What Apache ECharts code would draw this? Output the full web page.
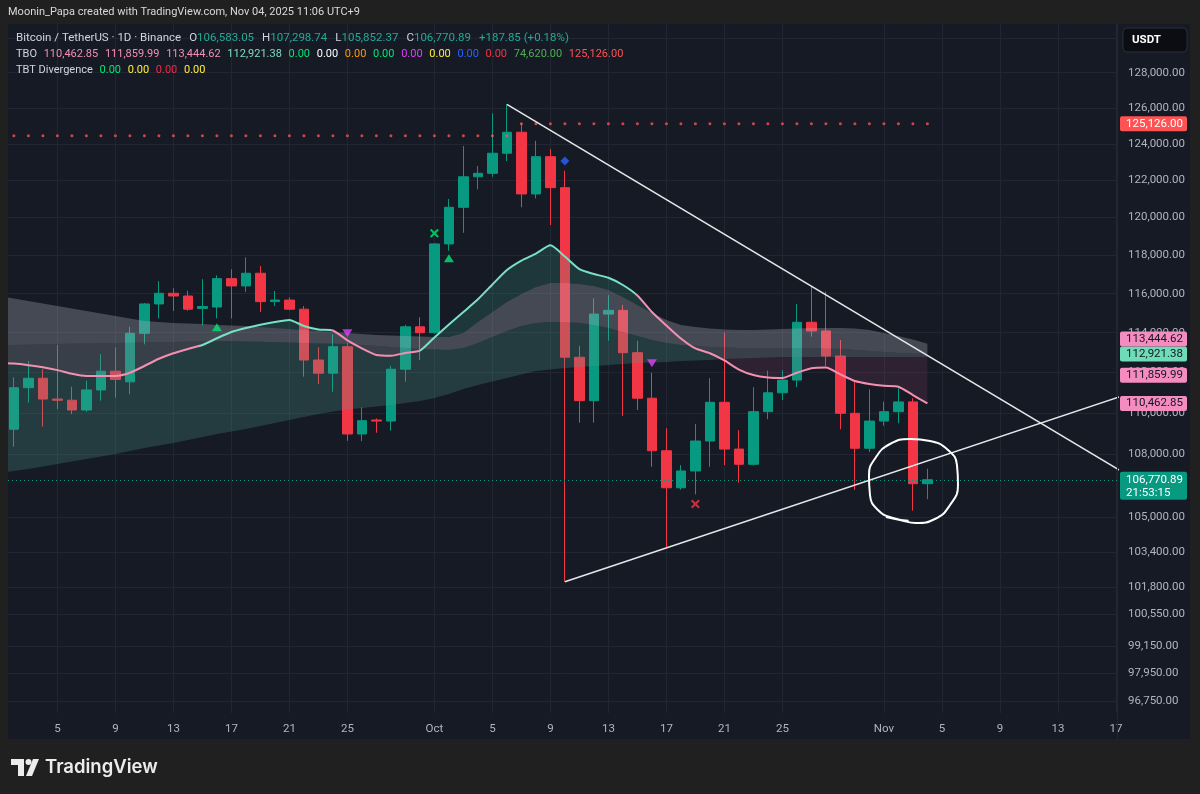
<!DOCTYPE html>
<html>
<head>
<meta charset="utf-8">
<title>BTCUSDT 1D</title>
<script src="https://cdn.jsdelivr.net/npm/echarts@6.0.0/dist/echarts.min.js"></script>
<style>
  html, body { margin: 0; padding: 0; background: #202020; }
  #chart { width: 1200px; height: 794px; }
</style>
</head>
<body>
<div id="chart"></div>
<script>
// 日K: 2025-09-02 起每天一根 (Binance BTC/USDT)
var startDate = '2025-09-02';
var open = [109200, 111240, 111710, 110680, 110620, 110140, 111130, 112060, 111530, 113970,
  115470, 116020, 115880, 115240, 115310, 116780, 116400, 117060, 115590, 115670,
  115200, 112620, 111960, 113290, 108970, 109650, 109600, 112160, 114300, 114000,
  118600, 120550, 122200, 122390, 123490, 124650, 121270, 123300, 121610, 112760,
  110600, 114950, 115140, 112990, 110720, 108160, 106390, 107190, 108630, 110520,
  108240, 107510, 110060, 110990, 111620, 114530, 114090, 112820, 109980, 108280,
  109600, 110060, 110540, 106583.05];
var high = [111760, 112570, 112160, 113380, 111290, 111590, 112910, 113260, 114300, 115520,
  116650, 116280, 116150, 116750, 116950, 117270, 117890, 117440, 116140, 115810,
  115360, 113260, 113920, 113460, 110270, 109730, 112320, 114400, 114790, 118650,
  121000, 123890, 122790, 125700, 126210, 125150, 124180, 123720, 122530, 113330,
  115760, 115930, 115420, 113590, 111990, 109250, 107470, 109460, 111710, 114000,
  109160, 111260, 112090, 112120, 115470, 116360, 116100, 113630, 111590, 111160,
  110550, 111210, 110720, 107298.74];
var low = [108350, 110500, 109330, 110180, 109940, 110050, 110600, 110750, 110910, 113410,
  114730, 115110, 115120, 114380, 114730, 114730, 116090, 115060, 115360, 115150,
  111790, 111420, 111040, 108640, 108620, 109030, 109130, 111540, 112620, 113950,
  118240, 119190, 121520, 122200, 123060, 120550, 121030, 119600, 102020, 109520,
  109520, 113590, 109850, 110140, 107390, 103570, 106300, 106080, 107390, 107470,
  106630, 107450, 109690, 110630, 111260, 113800, 112320, 109200, 106290, 108100,
  109370, 109490, 105310, 105852.37];
var close = [111240, 111710, 110680, 110620, 110140, 111130, 112060, 111650, 113970, 115470,
  116020, 115880, 115200, 115340, 116780, 116400, 117060, 115590, 115670, 115200,
  112620, 111960, 113290, 108970, 109620, 109600, 112160, 114300, 114000, 118600,
  120550, 122200, 122390, 123490, 124650, 121270, 123300, 121610, 112760, 110600,
  114950, 115140, 112990, 110720, 108160, 106390, 107190, 108630, 110520, 108240,
  107510, 110060, 110990, 111620, 114530, 114090, 112820, 109980, 108280, 109600,
  110060, 110540, 106583.05, 106770.89];

// TBO 指标 (从 09-01 开始，每天一个值)
var tboFast = [112473, 112443, 112362, 112256, 112115, 111931, 111821, 111821, 111821, 111981,
  112322, 112683, 112960, 113176, 113377, 113717, 114035, 114239, 114406, 114544,
  114647, 114340, 114162, 114112, 113616, 113212, 112874, 112834, 112975, 113090,
  113757, 114417, 115055, 115708, 116474, 117229, 117726, 118088, 118526, 117936,
  117270, 117020, 116823, 116448, 115904, 115055, 114365, 113707, 113202, 112960,
  112598, 112145, 111871, 111746, 111721, 111981, 112211, 112246, 111901, 111572,
  111424, 111334, 111290, 110879, 110463];
var bandTop = [115878, 115749, 115620, 115492, 115364, 115235, 115107, 114979, 114851, 114723,
  114596, 114545, 114493, 114468, 114442, 114391, 114366, 114340, 114289, 114239,
  114188, 114137, 114086, 114035, 113985, 113934, 113883, 113858, 113833, 113808,
  113782, 113782, 113985, 114545, 115055, 115569, 115982, 116344, 116552, 116552,
  116500, 116396, 116189, 115827, 115415, 115004, 114647, 114391, 114289, 114213,
  114162, 114137, 114137, 114162, 114188, 114213, 114239, 114239, 114239, 114213,
  114137, 113985, 113833, 113656, 113445];
var bandMid = [113362, 113377, 113392, 113408, 113423, 113438, 113448, 113463, 113478, 113493,
  113503, 113519, 113529, 113544, 113554, 113570, 113580, 113560, 113539, 113519,
  113499, 113478, 113458, 113443, 113428, 113377, 113327, 113277, 113227, 113176,
  113151, 113126, 113227, 113478, 113782, 114086, 114340, 114493, 114545, 114545,
  114493, 114391, 114239, 114035, 113833, 113631, 113478, 113377, 113327, 113277,
  113252, 113227, 113227, 113227, 113227, 113227, 113227, 113202, 113176, 113126,
  113076, 113025, 112975, 112950, 112921];
var bandLow = [107092, 107188, 107284, 107403, 107523, 107643, 107763, 107883, 108003, 108148,
  108292, 108413, 108533, 108678, 108824, 108970, 109091, 109213, 109359, 109505,
  109651, 109798, 109945, 110067, 110165, 110239, 110313, 110387, 110485, 110583,
  110731, 110928, 111176, 111374, 111548, 111722, 111896, 112070, 112145, 112221,
  112271, 112322, 112372, 112422, 112473, 112498, 112523, 112573, 112598, 112623,
  112673, 112698, 112723, 112749, 112774, 112774, 112774, 112774, 112774, 112774,
  112774, 112774, 112774, 112774, 112774];
// 快线颜色为青色的区间 (以 09-01 为第 0 天)
var fastUpRanges = [[13.8, 22.9], [29, 43.9]];

// 前高虚线
var athLevels = [
  { from: '2025-09-02', to: '2025-10-06', price: 124457 },
  { from: '2025-10-07', to: '2025-11-04', price: 125126 }
];

// 信号
var signals = [
  { date: '2025-09-16', price: 114274, kind: 'up' },
  { date: '2025-09-25', price: 113970, kind: 'down' },
  { date: '2025-10-01', price: 119162, kind: 'buyX' },
  { date: '2025-10-02', price: 117842, kind: 'up' },
  { date: '2025-10-10', price: 123063, kind: 'diamond' },
  { date: '2025-10-16', price: 112456, kind: 'down' },
  { date: '2025-10-19', price: 105623, kind: 'sellX' }
];

// 手绘: 趋势线 和 圈
var resistance = [['2025-10-06', 126211], ['2025-11-18', 106920]];
var support = [['2025-10-10', 102030], ['2025-11-18', 110968]];
var circleDraw = [[61.14, 105014], [62.11, 104873], [63.21, 104733], [64.52, 104920], [65.56, 105576],
  [66.11, 106522], [66.04, 107474], [65.42, 108196], [64.18, 108630], [62.8, 108727],
  [61.42, 108485], [60.46, 107858], [59.97, 106997], [60.04, 106048], [60.59, 105341],
  [61.63, 104966], [62.7, 104840]];

// 轴刻度
var priceTicks = [130000, 128000, 126000, 124000, 122000, 120000, 118000, 116000, 114000, 112000,
  110000, 108000, 105000, 103400, 101800, 100550, 99150, 97950, 96750];
var tickDates = ['2025-09-05', '2025-09-09', '2025-09-13', '2025-09-17', '2025-09-21', '2025-09-25',
  '2025-10-01', '2025-10-05', '2025-10-09', '2025-10-13', '2025-10-17', '2025-10-21', '2025-10-25',
  '2025-11-01', '2025-11-05', '2025-11-09', '2025-11-13', '2025-11-17'];
var tickNames = ['5', '9', '13', '17', '21', '25', 'Oct', '5', '9', '13', '17', '21', '25',
  'Nov', '5', '9', '13', '17'];

// 右侧价格标签
var tagList = [
  { value: 125126.00, text: '125,126.00', bg: '#ff5252', fg: '#ffffff' },
  { value: 113444.62, text: '113,444.62', bg: '#f48cc0', fg: '#131722' },
  { value: 112921.38, text: '112,921.38', bg: '#6fdcb8', fg: '#131722' },
  { value: 111859.99, text: '111,859.99', bg: '#f48cc0', fg: '#131722' },
  { value: 110462.85, text: '110,462.85', bg: '#f48cc0', fg: '#131722' },
  { value: 106770.89, text: '106,770.89', sub: '21:53:15', bg: '#089981', fg: '#ffffff' }
];

var FONT = 'Roboto, "Noto Sans", sans-serif';
var PINK = '#f48fb1', TEAL = '#79e0c3', UP = '#089981', DOWN = '#f23645';

function dayOf(s) {
  return Math.round((Date.parse(s) - Date.parse('2025-09-01')) / 864e5);
}
var firstDay = dayOf(startDate);
var tickDays = tickDates.map(dayOf);

var candleData = open.map(function (o, k) {
  return [firstDay + k, o, close[k], low[k], high[k]];
});
var fastData = tboFast.map(function (v, k) { return [k, v]; });

var athData = [];
athLevels.forEach(function (lv) {
  for (var d = dayOf(lv.from); d <= dayOf(lv.to); d++) athData.push([d, lv.price]);
});

// 两条线之间的填充 (只填 upper 在上方的部分)
function splitFill(api, upper, lower) {
  var segs = [], top = [], bot = [], prev = null;
  for (var k = 0; k < upper.length; k++) {
    var a = api.coord([k, upper[k]]), b = api.coord([k, lower[k]]);
    var gap = b[1] - a[1];
    if (prev && (prev.gap > 0) !== (gap > 0)) {
      var t = prev.gap / (prev.gap - gap);
      var c = [prev.a[0] + t * (a[0] - prev.a[0]), prev.a[1] + t * (a[1] - prev.a[1])];
      top.push(c); bot.push(c);
      if (prev.gap > 0) segs.push(top.concat(bot.slice().reverse()));
      top = [c]; bot = [c];
    }
    top.push(a); bot.push(b);
    prev = { a: a, gap: gap };
  }
  if (prev && prev.gap > 0) segs.push(top.concat(bot.slice().reverse()));
  return segs;
}

function fillBetween(upper, lower, color, z) {
  return {
    type: 'custom',
    z: z,
    silent: true,
    clip: true,
    data: [[0, upper[0]]],
    renderItem: function (params, api) {
      return {
        type: 'group',
        children: splitFill(api, upper, lower).map(function (pts) {
          return { type: 'polygon', shape: { points: pts }, style: { fill: color } };
        })
      };
    }
  };
}

var xPath = 'path://M2,0L6,4L10,0L12,2L8,6L12,10L10,12L6,8L2,12L0,10L4,6L0,2Z';
var signalStyle = {
  up: { symbol: 'triangle', size: [10, 8], rotate: 0, color: '#00e676' },
  down: { symbol: 'triangle', size: [10, 8], rotate: 180, color: '#e040fb' },
  buyX: { symbol: xPath, size: 9, rotate: 0, color: '#00e676' },
  sellX: { symbol: xPath, size: 9, rotate: 0, color: '#f23645' },
  diamond: { symbol: 'diamond', size: 9, rotate: 0, color: '#2962ff' }
};
var signalData = signals.map(function (s) {
  var st = signalStyle[s.kind];
  return {
    value: [dayOf(s.date), s.price],
    symbol: st.symbol, symbolSize: st.size, symbolRotate: st.rotate,
    itemStyle: { color: st.color }
  };
});

function toXY(p) { return [dayOf(p[0]), p[1]]; }

var chart = echarts.init(document.getElementById('chart'), null, { renderer: 'canvas' });

var pieces = [];
var edge = 0;
fastUpRanges.forEach(function (r) {
  pieces.push({ gte: edge, lt: r[0], color: PINK });
  pieces.push({ gte: r[0], lt: r[1], color: TEAL });
  edge = r[1];
});
pieces.push({ gte: edge, lte: 100, color: PINK });

var option = {
  backgroundColor: '#161a25',
  animation: false,
  grid: { left: 8, right: 83, top: 24, bottom: 81 },
  xAxis: {
    type: 'value',
    min: (8 + 0.6) / 14.5,
    max: (1117 + 0.6) / 14.5,
    axisLine: { show: false },
    axisTick: { show: false, customValues: tickDays },
    splitLine: { show: true, lineStyle: { color: '#222633', width: 1 } },
    axisLabel: {
      customValues: tickDays,
      color: '#b2b5be',
      fontFamily: FONT,
      fontSize: 11.5,
      margin: 10,
      formatter: function (v) {
        var k = tickDays.indexOf(Math.round(v));
        return k >= 0 ? tickNames[k] : '';
      }
    }
  },
  yAxis: {
    type: 'log',
    position: 'right',
    min: 96233,
    max: 130808,
    axisLine: { show: false },
    axisTick: { show: false, customValues: priceTicks },
    splitLine: { show: true, lineStyle: { color: '#222633', width: 1 } },
    axisLabel: {
      customValues: priceTicks,
      color: '#b2b5be',
      fontFamily: FONT,
      fontSize: 11.5,
      margin: 11,
      formatter: function (v) {
        return Number(v).toLocaleString('en-US', { minimumFractionDigits: 2, maximumFractionDigits: 2 });
      }
    }
  },
  visualMap: {
    show: false,
    type: 'piecewise',
    seriesIndex: 5,
    dimension: 0,
    pieces: pieces
  },
  series: [
    {
      type: 'candlestick',
      z: 2,
      barWidth: 10,
      data: candleData,
      encode: { x: 0, y: [1, 2, 3, 4] },
      itemStyle: {
        color: UP, color0: DOWN, borderColor: UP, borderColor0: DOWN,
        borderColorDoji: UP, borderWidth: 1
      },
      markLine: {
        silent: true,
        symbol: 'none',
        label: { show: false },
        lineStyle: { color: UP, type: [1, 3], width: 1 },
        data: [{ yAxis: close[close.length - 1] }]
      }
    },
    fillBetween(bandTop, bandMid, 'rgba(178,182,192,0.30)', 3),
    fillBetween(bandMid, bandLow, 'rgba(80,165,145,0.25)', 3),
    fillBetween(bandMid, tboFast, 'rgba(210,90,150,0.12)', 3),
    fillBetween(tboFast, bandTop, 'rgba(60,175,150,0.20)', 3),
    {
      type: 'line',
      z: 4,
      data: fastData,
      symbol: 'none',
      smooth: 0.2,
      lineStyle: { width: 2 }
    },
    {
      type: 'scatter',
      z: 3,
      data: athData,
      symbol: 'circle',
      symbolSize: 3,
      itemStyle: { color: '#ff5252' }
    },
    {
      type: 'line',
      z: 5,
      data: resistance.map(toXY),
      symbol: 'none',
      lineStyle: { color: '#e8e8e8', width: 1.5 }
    },
    {
      type: 'line',
      z: 5,
      data: support.map(toXY),
      symbol: 'none',
      lineStyle: { color: '#e8e8e8', width: 1.5 }
    },
    {
      type: 'line',
      z: 6,
      data: circleDraw,
      symbol: 'none',
      smooth: 0.5,
      lineStyle: { color: '#ffffff', width: 2 }
    },
    {
      type: 'scatter',
      z: 6,
      data: signalData
    }
  ]
};

chart.setOption(option);

// 文字、边框、价格标签
function rowText(x, y, rich, text, size) {
  return { type: 'text', x: x, y: y, z: 50, style: { text: text, rich: rich, verticalAlign: 'middle', font: size + 'px ' + FONT } };
}
function token(c, size, pad) { return { fill: c, fontFamily: FONT, fontSize: size, padding: [0, 0, 0, pad] }; }
var row1Rich = {
  t: token('#d1d4dc', 11.5, 0),
  l: token('#d1d4dc', 11.5, 8),
  v: token('#22ab94', 11.5, 0),
  g: token('#22ab94', 11.5, 8)
};
var tboColors = ['#f48fb1', '#f48fb1', '#f48fb1', '#7ddcc0', '#00e676', '#ffffff', '#ff9800', '#00e676',
  '#e040fb', '#ffeb3b', '#2962ff', '#f23645', '#4caf50', '#ff5252'];
var tboTexts = ['110,462.85', '111,859.99', '113,444.62', '112,921.38', '0.00', '0.00', '0.00', '0.00',
  '0.00', '0.00', '0.00', '0.00', '74,620.00', '125,126.00'];
var tbtColors = ['#00e676', '#ffeb3b', '#f7254a', '#ffeb3b'];
var tbtTexts = ['0.00', '0.00', '0.00', '0.00'];

var tboRich = { t: token('#d1d4dc', 11, 0) }, tboStr = '{t|TBO}';
tboTexts.forEach(function (s, k) { tboRich['c' + k] = token(tboColors[k], 11, 6.7); tboStr += '{c' + k + '|' + s + '}'; });
var tbtRich = { t: token('#d1d4dc', 11, 0) }, tbtStr = '{t|TBT Divergence}';
tbtTexts.forEach(function (s, k) { tbtRich['c' + k] = token(tbtColors[k], 11, 6.7); tbtStr += '{c' + k + '|' + s + '}'; });

function buildGraphics() {
  var els = [
    { type: 'rect', z: 40, shape: { x: 0, y: 0, width: 1200, height: 24 }, style: { fill: '#202020' } },
    { type: 'rect', z: 40, shape: { x: 0, y: 739, width: 1200, height: 55 }, style: { fill: '#202020' } },
    { type: 'rect', z: 40, shape: { x: 0, y: 0, width: 8, height: 794 }, style: { fill: '#202020' } },
    { type: 'rect', z: 40, shape: { x: 1190, y: 0, width: 10, height: 794 }, style: { fill: '#202020' } },
    { type: 'line', z: 41, shape: { x1: 1117.5, y1: 24, x2: 1117.5, y2: 739 }, style: { stroke: '#222633', lineWidth: 1 } },
    {
      type: 'text', x: 8, y: 12, z: 50,
      style: { text: 'Moonin_Papa created with TradingView.com, Nov 04, 2025 11:06 UTC+9', fill: '#d9d9d9', font: '11px ' + FONT, verticalAlign: 'middle' }
    },
    rowText(16, 38, row1Rich, '{t|Bitcoin / TetherUS · 1D · Binance}{l|O}{v|106,583.05}{l|H}{v|107,298.74}{l|L}{v|105,852.37}{l|C}{v|106,770.89}{g|+187.85 (+0.18%)}', 11.5),
    rowText(16, 54, tboRich, tboStr, 11),
    rowText(16, 70, tbtRich, tbtStr, 11),
    { type: 'rect', z: 60, shape: { x: 1123, y: 28, width: 64, height: 24, r: 4 }, style: { fill: '#0b0d13', stroke: '#2a2e39', lineWidth: 1 } },
    { type: 'text', x: 1132, y: 40, z: 61, style: { text: 'USDT', fill: '#ffffff', font: 'bold 11.5px ' + FONT, verticalAlign: 'middle' } },
    // TradingView 标志
    { type: 'polygon', z: 50, shape: { points: [[11, 759], [24, 759], [24, 776], [18, 776], [18, 765], [11, 765]] }, style: { fill: '#ececec' } },
    { type: 'circle', z: 50, shape: { cx: 28.5, cy: 762, r: 3 }, style: { fill: '#ececec' } },
    { type: 'polygon', z: 50, shape: { points: [[33, 759], [39, 759], [32, 776], [26, 776]] }, style: { fill: '#ececec' } },
    { type: 'text', x: 45, y: 767, z: 50, style: { text: 'TradingView', fill: '#ececec', font: '600 18.5px Inter, ' + FONT, verticalAlign: 'middle' } }
  ];

  var items = tagList.map(function (t) {
    return { t: t, y: chart.convertToPixel({ yAxisIndex: 0 }, t.value) };
  });
  items.sort(function (a, b) { return b.y - a.y; });
  for (var k = 1; k < items.length; k++) {
    if (items[k - 1].y - items[k].y < 15 && !items[k - 1].t.sub) items[k].y = items[k - 1].y - 15;
  }
  items.forEach(function (it) {
    var t = it.t, h = t.sub ? 28 : 15, top = t.sub ? it.y - 8 : it.y - 7.5;
    els.push({ type: 'rect', z: 60, shape: { x: 1120, y: top, width: 67, height: h, r: 2 }, style: { fill: t.bg } });
    els.push({ type: 'text', x: 1126, y: it.y, z: 61, style: { text: t.text, fill: t.fg, font: '11.5px ' + FONT, verticalAlign: 'middle' } });
    if (t.sub) {
      els.push({ type: 'text', x: 1126, y: it.y + 13, z: 61, style: { text: t.sub, fill: t.fg, font: '11.5px ' + FONT, verticalAlign: 'middle' } });
    }
  });
  return els;
}

chart.setOption({ graphic: { elements: buildGraphics() } });
</script>
</body>
</html>
